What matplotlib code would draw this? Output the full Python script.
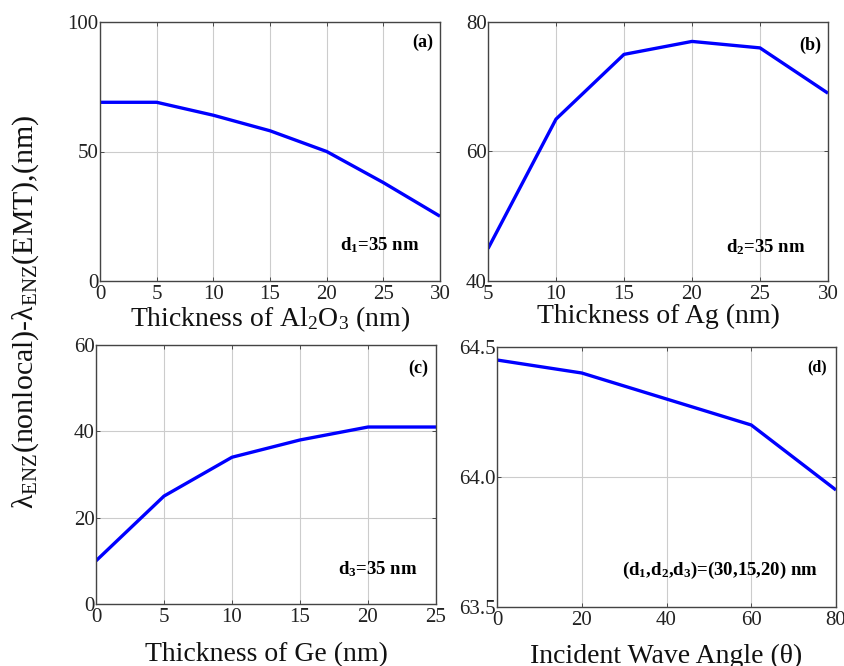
import matplotlib
matplotlib.use("Agg")
import matplotlib.pyplot as plt

plt.rcParams['font.family'] = ['Liberation Serif', 'DejaVu Serif']
plt.rcParams['mathtext.fontset'] = 'custom'
plt.rcParams['mathtext.rm'] = 'Liberation Serif'
plt.rcParams['mathtext.it'] = 'Liberation Serif:italic'
plt.rcParams['mathtext.bf'] = 'Liberation Serif:bold'

# Data
xa = [0, 5, 10, 15, 20, 25, 30]
ya = [69, 69, 64, 58, 50, 38, 25]
xb = [5, 10, 15, 20, 25, 30]
yb = [45, 65, 75, 77, 76, 69]
xc = [0, 5, 10, 15, 20, 25]
yc = [10, 25, 34, 38, 41, 41]
xd = [0, 20, 40, 60, 80]
yd = [64.45, 64.40, 64.30, 64.20, 63.95]

W, H = 844, 666
fig = plt.figure(figsize=(W/100, H/100), dpi=100)

def add_ax(l, t, r, b):
    return fig.add_axes([l/W, 1-b/H, (r-l)/W, (b-t)/H])

panels = [
    dict(rect=(100, 22, 440, 281), x=xa, y=ya, xlim=(0, 30), ylim=(0, 100),
         xt=[0, 5, 10, 15, 20, 25, 30], yt=[0, 50, 100], ytl=None,
         xlabel=r'Thickness of Al$_2$O$_3$ (nm)', lp=0,
         tag='(a)', tagpos=(0.98, 0.92), tagfs=13,
         note=r'd$_\mathbf{1}$=35 nm', notepos=(0.94, 0.14)),
    dict(rect=(488, 22, 828, 281), x=xb, y=yb, xlim=(5, 30), ylim=(40, 80),
         xt=[5, 10, 15, 20, 25, 30], yt=[40, 60, 80], ytl=None,
         xlabel='Thickness of Ag (nm)', lp=0,
         tag='(b)', tagpos=(0.98, 0.91), tagfs=13,
         note=r'd$_\mathbf{2}$=35 nm', notepos=(0.935, 0.13)),
    dict(rect=(96, 345, 436, 604), x=xc, y=yc, xlim=(0, 25), ylim=(0, 60),
         xt=[0, 5, 10, 15, 20, 25], yt=[0, 20, 40, 60], ytl=None,
         xlabel='Thickness of Ge (nm)', lp=11,
         tag='(c)', tagpos=(0.976, 0.91), tagfs=13,
         note=r'd$_\mathbf{3}$=35 nm', notepos=(0.945, 0.135)),
    dict(rect=(497, 347, 836, 607), x=xd, y=yd, xlim=(0, 80), ylim=(63.5, 64.5),
         xt=[0, 20, 40, 60, 80], yt=[63.5, 64.0, 64.5], ytl=['63.5', '64.0', '64.5'],
         xlabel='Incident Wave Angle (θ)', lp=10,
         tag='(d)', tagpos=(0.973, 0.92), tagfs=11.5,
         note=r'(d$_\mathbf{1}$,d$_\mathbf{2}$,d$_\mathbf{3}$)=(30,15,20) nm', notepos=(0.947, 0.14)),
]

for p in panels:
    ax = add_ax(*p['rect'])
    ax.plot(p['x'], p['y'], color='#0000ff', lw=2.4, solid_capstyle='butt')
    ax.set_xlim(*p['xlim'])
    ax.set_ylim(*p['ylim'])
    ax.set_xticks(p['xt'])
    ax.set_yticks(p['yt'])
    if p['ytl']:
        ax.set_yticklabels(p['ytl'])
    ax.grid(True, color='#cccccc', lw=0.8)
    ax.tick_params(direction='in', length=3, width=0.6, labelsize=15,
                   colors='#333333', labelcolor='#222222', top=True, right=True)
    ax.tick_params(axis='x', pad=3)
    ax.tick_params(axis='y', pad=1)
    for s in ax.spines.values():
        s.set_color('#444444')
        s.set_linewidth(1.0)
    ax.set_xlabel(p['xlabel'], fontsize=20, labelpad=p['lp'], color='#111111')
    ax.text(*p['tagpos'], p['tag'], transform=ax.transAxes, ha='right', va='center',
            fontsize=p['tagfs'], fontweight='bold')
    ax.text(*p['notepos'], p['note'], transform=ax.transAxes, ha='right', va='center',
            fontsize=13.5, fontweight='bold')

fig.text(0.03, 1 - 312/H, r'λ$_{\mathrm{ENZ}}$(nonlocal)-λ$_{\mathrm{ENZ}}$(EMT),(nm)',
         rotation=90, ha='center', va='center', fontsize=21.5, color='#111111')

fig.savefig('out.png', dpi=100)
